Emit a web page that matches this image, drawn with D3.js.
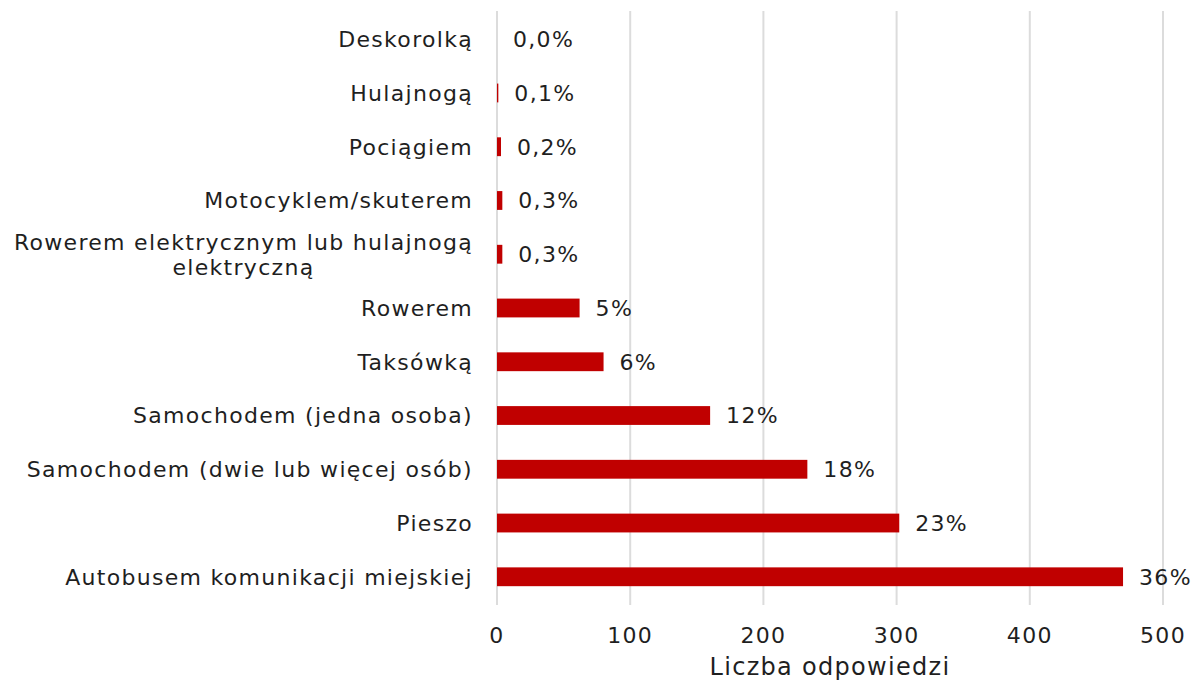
<!DOCTYPE html>
<html>
<head>
<meta charset="utf-8">
<script src="https://cdn.jsdelivr.net/npm/d3@7"></script>
<style>
  body { margin: 0; background: #fff; }
  text { font-family: "DejaVu Sans", Verdana, sans-serif; fill: #1f1f1f; letter-spacing: 1.3px; }
</style>
</head>
<body>
<div id="canvas"></div>
<script>
"use strict"

/* Data */
let categories = [
    "Deskorolką",
    "Hulajnogą",
    "Pociągiem",
    "Motocyklem/skuterem",
    "Rowerem elektrycznym lub hulajnogą|elektryczną",
    "Rowerem",
    "Taksówką",
    "Samochodem (jedna osoba)",
    "Samochodem (dwie lub więcej osób)",
    "Pieszo",
    "Autobusem komunikacji miejskiej"
];
let counts = [0, 1, 3, 4, 4, 62, 80, 160, 233, 302, 470];
let percentLabels = ["0,0%", "0,1%", "0,2%", "0,3%", "0,3%", "5%", "6%", "12%", "18%", "23%", "36%"];
let xTicks = [0, 100, 200, 300, 400, 500];
let xTitle = "Liczba odpowiedzi";

/* Drawing configuration */
let svgWidth = 1198;
let svgHeight = 682;
let plotLeft = 497;
let plotRight = 1163;
let plotTop = 11;
let plotBottom = 605;
let fontSize = 22;
let labelRight = plotLeft - 24;

let svg = d3.select("#canvas")
    .append("svg")
    .attr("width", svgWidth)
    .attr("height", svgHeight);

let xScale = d3.scaleLinear()
    .domain([0, 500])
    .range([plotLeft, plotRight]);

let yScale = d3.scaleBand()
    .domain(categories)
    .range([plotTop, plotBottom])
    .paddingInner(0.65)
    .paddingOuter(0.35);

// gridlines
svg.append("g")
    .selectAll("line")
    .data(xTicks)
    .join("line")
    .attr("x1", d => xScale(d))
    .attr("x2", d => xScale(d))
    .attr("y1", plotTop)
    .attr("y2", plotBottom)
    .attr("stroke", "#dcdcdc")
    .attr("stroke-width", 2);

// bars
svg.append("g")
    .selectAll("rect")
    .data(counts)
    .join("rect")
    .attr("x", xScale(0))
    .attr("y", (d, i) => yScale(categories[i]))
    .attr("width", d => xScale(d) - xScale(0))
    .attr("height", yScale.bandwidth())
    .attr("fill", "#c00000");

// value labels
svg.append("g")
    .selectAll("text")
    .data(counts)
    .join("text")
    .attr("x", d => xScale(d) + 16)
    .attr("y", (d, i) => yScale(categories[i]) + yScale.bandwidth() / 2)
    .attr("dy", "0.36em")
    .style("font-size", fontSize + "px")
    .text((d, i) => percentLabels[i]);

// category labels (split on "|" for two lines, second line centred under first)
svg.append("g")
    .selectAll("g")
    .data(categories)
    .join("g")
    .each(function(d) {
        let lines = d.split("|");
        let g = d3.select(this);
        let cy = yScale(d) + yScale.bandwidth() / 2;
        let first = g.append("text")
            .attr("x", labelRight)
            .attr("y", cy - (lines.length - 1) * 12)
            .attr("dy", "0.36em")
            .attr("text-anchor", "end")
            .style("font-size", fontSize + "px")
            .text(lines[0]);
        if (lines.length > 1) {
            let w = first.node().getComputedTextLength();
            g.append("text")
                .attr("x", labelRight - w / 2)
                .attr("y", cy + 13)
                .attr("dy", "0.36em")
                .attr("text-anchor", "middle")
                .style("font-size", fontSize + "px")
                .text(lines[1]);
        }
    });

// x tick labels
svg.append("g")
    .selectAll("text")
    .data(xTicks)
    .join("text")
    .attr("x", d => xScale(d))
    .attr("y", 643)
    .attr("text-anchor", "middle")
    .style("font-size", fontSize + "px")
    .text(d => d);

// axis title
svg.append("text")
    .attr("x", (plotLeft + plotRight) / 2)
    .attr("y", 675)
    .attr("text-anchor", "middle")
    .style("font-size", "24px")
    .text(xTitle);
</script>
</body>
</html>
